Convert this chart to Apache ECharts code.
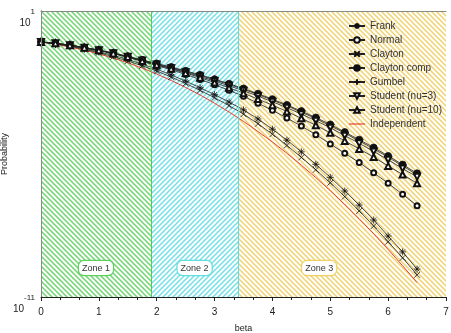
<!DOCTYPE html>
<html>
<head>
<meta charset="utf-8">
<script src="https://cdn.jsdelivr.net/npm/echarts@6/dist/echarts.min.js"></script>
<style>
  html, body { margin: 0; padding: 0; background: #fff; }
  #chart { width: 451px; height: 333px; }
</style>
</head>
<body>
<div id="chart"></div>
<script>
// reliability index beta (x) and failure probability of each copula (y)
const betas = [0, 0.25, 0.5, 0.75, 1, 1.25, 1.5, 1.75, 2, 2.25, 2.5, 2.75, 3, 3.25, 3.5,
  3.75, 4, 4.25, 4.5, 4.75, 5, 5.25, 5.5, 5.75, 6, 6.25, 6.5]

const frank = [0.50, 0.427, 0.347, 0.266, 0.195, 0.138, 0.0923, 0.0589, 0.0363, 0.0209, 0.0115,
  6.0e-3, 3.1e-3, 1.51e-3, 7.1e-4, 2.95e-4, 1.10e-4, 3.8e-5, 1.23e-5, 3.7e-6, 1.05e-6,
  2.8e-7, 7.2e-8, 1.70e-8, 3.6e-9, 7.8e-10, 1.48e-10]
const normal = [0.50, 0.438, 0.365, 0.287, 0.219, 0.162, 0.1135, 0.0767, 0.0513, 0.0343, 0.0219,
  0.0135, 8.1e-3, 4.7e-3, 2.63e-3, 1.35e-3, 6.8e-4, 3.24e-4, 1.48e-4, 6.5e-5, 2.63e-5,
  1.07e-5, 4.4e-6, 1.62e-6, 5.9e-7, 2.04e-7, 6.8e-8]
const clayton = [0.50, 0.417, 0.331, 0.248, 0.178, 0.120, 0.0804, 0.0501, 0.0302, 0.0170, 9.1e-3,
  4.7e-3, 2.29e-3, 1.07e-3, 4.7e-4, 1.86e-4, 6.8e-5, 2.29e-5, 7.2e-6, 2.19e-6, 6.2e-7,
  1.62e-7, 4.1e-8, 9.5e-9, 2.09e-9, 4.4e-10, 8.5e-11]
const claytonComp = [0.50, 0.44, 0.37, 0.295, 0.23, 0.174, 0.126, 0.089, 0.063, 0.0447, 0.031,
  0.0209, 0.0138, 8.9e-3, 5.6e-3, 3.4e-3, 2.0e-3, 1.15e-3, 6.3e-4, 3.4e-4, 1.74e-4,
  8.3e-5, 4.0e-5, 1.86e-5, 8.3e-6, 3.6e-6, 1.55e-6]
const gumbel = [0.50, 0.44, 0.37, 0.293, 0.225, 0.170, 0.122, 0.086, 0.060, 0.0425, 0.0293,
  0.0196, 0.0129, 8.3e-3, 5.2e-3, 3.13e-3, 1.82e-3, 1.05e-3, 5.7e-4, 3.05e-4, 1.55e-4,
  7.4e-5, 3.55e-5, 1.64e-5, 7.3e-6, 3.15e-6, 1.35e-6]
const student3 = [0.50, 0.44, 0.365, 0.29, 0.224, 0.167, 0.119, 0.083, 0.0565, 0.0395, 0.0270,
  0.0178, 0.0115, 7.3e-3, 4.5e-3, 2.69e-3, 1.55e-3, 8.8e-4, 4.7e-4, 2.5e-4, 1.26e-4,
  5.9e-5, 2.8e-5, 1.28e-5, 5.7e-6, 2.45e-6, 1.10e-6]
const student10 = [0.50, 0.44, 0.367, 0.29, 0.224, 0.166, 0.1175, 0.080, 0.055, 0.0376, 0.0251,
  0.016, 0.0100, 6.0e-3, 3.55e-3, 2.02e-3, 1.12e-3, 6.1e-4, 3.16e-4, 1.6e-4, 7.8e-5,
  3.55e-5, 1.64e-5, 7.4e-6, 3.16e-6, 1.38e-6, 5.9e-7]
const independent = [0.50, 0.401, 0.309, 0.227, 0.159, 0.106, 0.0668, 0.0401, 0.0228, 0.0122, 6.2e-3,
  3.0e-3, 1.35e-3, 5.8e-4, 2.33e-4, 8.8e-5, 3.2e-5, 1.07e-5, 3.4e-6, 1.02e-6, 2.9e-7,
  7.6e-8, 1.9e-8, 4.5e-9, 9.9e-10, 2.05e-10, 4.0e-11]

// zone limits on beta
const zoneNames = ['Zone 1', 'Zone 2', 'Zone 3']
const zoneLimits = [0, 1.9, 3.41, 7]

const FONT = 'Liberation Sans'

// hatch pattern for the zones, dir>0 is '/', else '\'
function hatch(color, dir) {
  const c = document.createElement('canvas')
  c.width = 5
  c.height = 5
  const g = c.getContext('2d')
  g.strokeStyle = color
  g.lineWidth = 1.5
  g.beginPath()
  if (dir > 0) {
    g.moveTo(-1, 6); g.lineTo(6, -1)
    g.moveTo(-1, 1); g.lineTo(1, -1)
    g.moveTo(4, 6); g.lineTo(6, 4)
  } else {
    g.moveTo(-1, -1); g.lineTo(6, 6)
    g.moveTo(4, -1); g.lineTo(6, 1)
    g.moveTo(-1, 4); g.lineTo(1, 6)
  }
  g.stroke()
  return { image: c, repeat: 'repeat' }
}

const zoneColors = ['#6fd66f', '#72e0e6', '#f0d270']
const zoneBorders = ['#5ccf5c', '#62dce0', '#efd060']
const zonePatterns = [hatch(zoneColors[0], -1), hatch(zoneColors[1], 1), hatch(zoneColors[2], -1)]
const labelShift = [0, 0, -23]

const pairs = arr => betas.map((b, i) => [b, arr[i]])

const starPath = 'path://M5,0L5,10M0,5L10,5M1.5,1.5L8.5,8.5M8.5,1.5L1.5,8.5'
const crossPath = 'path://M0,0L10,10M10,0L0,10'
const plusPath = 'path://M5,0L5,10M0,5L10,5'
const redLineIcon = 'path://M0,0H16V1.2H0Z'

function curve(name, arr, symbol, size, extra) {
  return Object.assign({
    name: name,
    type: 'line',
    z: 3,
    data: pairs(arr),
    symbol: symbol,
    symbolSize: size,
    lineStyle: { color: '#222', width: 0.8 },
    itemStyle: { color: '#111', borderColor: '#111', borderWidth: 0.8 }
  }, extra || {})
}

const chart = echarts.init(document.getElementById('chart'))

chart.setOption({
  animation: false,
  textStyle: { fontFamily: FONT },
  grid: { left: 41, right: 5, top: 11, bottom: 36, containLabel: false, outerBoundsMode: 'none' },
  legend: {
    left: 343,
    top: 16,
    orient: 'vertical',
    itemWidth: 16,
    itemHeight: 7,
    itemGap: 4,
    textStyle: { fontSize: 10, color: '#333', lineHeight: 10, fontFamily: FONT },
    data: ['Frank', 'Normal', 'Clayton', 'Clayton comp', 'Gumbel', 'Student (nu=3)', 'Student (nu=10)',
      { name: 'Independent', icon: redLineIcon }]
  },
  xAxis: [{
    type: 'value',
    min: 0,
    max: 7,
    interval: 1,
    z: 10,
    name: 'beta',
    nameLocation: 'middle',
    nameGap: 27,
    nameMoveOverlap: false,
    nameTextStyle: { fontSize: 9, color: '#222' },
    axisLine: { lineStyle: { color: '#222' } },
    axisTick: { length: 4, lineStyle: { color: '#222' } },
    minorTick: { show: true, splitNumber: 3, length: 3, lineStyle: { color: '#222' } },
    axisLabel: { fontSize: 10, color: '#222', margin: 10 },
    splitLine: { show: false }
  }, {
    type: 'value',
    position: 'top',
    min: 0,
    max: 7,
    z: 10,
    axisLine: { lineStyle: { color: '#888' } },
    axisTick: { show: false },
    axisLabel: { show: false },
    splitLine: { show: false }
  }],
  yAxis: [{
    type: 'log',
    logBase: 10,
    min: 1e-11,
    max: 10,
    z: 10,
    name: 'Probability',
    nameLocation: 'middle',
    nameGap: 32,
    nameMoveOverlap: false,
    nameTextStyle: { fontSize: 9, color: '#222' },
    axisLine: { show: true, lineStyle: { color: '#222' } },
    axisTick: { show: false },
    splitLine: { show: false },
    axisLabel: {
      margin: 6,
      verticalAlign: 'top',
      showMinLabel: true,
      showMaxLabel: true,
      hideOverlap: false,
      formatter: v => {
        const e = Math.round(Math.log10(v))
        if (e !== 1 && e !== -11) return ''
        return '{e|' + e + '}\n{b|10}{h|' + e + '}'
      },
      rich: {
        e: { fontSize: 8, lineHeight: 2, color: '#222', verticalAlign: 'middle' },
        b: { fontSize: 10, lineHeight: 20, color: '#222', verticalAlign: 'middle' },
        h: { fontSize: 8, lineHeight: 20, color: 'rgba(0,0,0,0)', verticalAlign: 'middle' }
      }
    }
  }, {
    type: 'log',
    position: 'right',
    min: 1e-11,
    max: 10,
    z: 10,
    axisLine: { show: true, lineStyle: { color: '#888' } },
    axisTick: { show: false },
    axisLabel: { show: false },
    splitLine: { show: false }
  }],
  series: [
    {
      type: 'line',
      z: 1,
      data: [],
      markArea: {
        silent: true,
        data: zoneNames.map((n, i) => [{
          xAxis: zoneLimits[i],
          yAxis: 1e-11,
          itemStyle: { color: zonePatterns[i] },
          label: {
            show: true,
            formatter: n,
            position: 'insideBottom',
            distance: 22,
            offset: [labelShift[i], 0],
            fontSize: 9,
            color: '#333',
            backgroundColor: '#fff',
            borderColor: zoneBorders[i],
            borderWidth: 1.2,
            borderRadius: 5,
            padding: [3, 3, 2, 3]
          }
        }, {
          xAxis: zoneLimits[i + 1],
          yAxis: 10
        }])
      },
      markLine: {
        silent: true,
        symbol: 'none',
        label: { show: false },
        data: [
          { xAxis: zoneLimits[1], lineStyle: { color: '#4fd04f', type: 'solid', width: 1 } },
          { xAxis: zoneLimits[2], lineStyle: { color: '#5ddde2', type: 'solid', width: 1 } }
        ]
      }
    },
    curve('Independent', independent, 'none', 0, {
      lineStyle: { color: '#e8402c', width: 1 },
      itemStyle: { color: '#e8402c' }
    }),
    curve('Frank', frank, starPath, 7),
    curve('Normal', normal, 'emptyCircle', 5),
    curve('Clayton', clayton, crossPath, 6),
    curve('Clayton comp', claytonComp, 'circle', 7),
    curve('Gumbel', gumbel, plusPath, 7),
    curve('Student (nu=3)', student3, 'emptyTriangle', 6, { symbolRotate: 180 }),
    curve('Student (nu=10)', student10, 'emptyTriangle', 6)
  ]
})
</script>
</body>
</html>
